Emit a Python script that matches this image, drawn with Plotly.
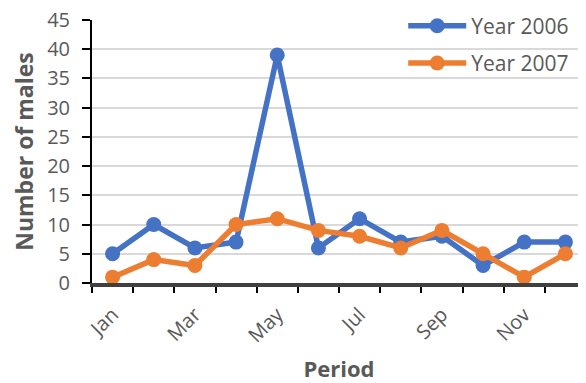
import plotly.graph_objects as go

months = ["Jan", "Feb", "Mar", "Apr", "May", "Jun", "Jul", "Aug", "Sep", "Oct", "Nov", "Dec"]
males_2006 = [5, 10, 6, 7, 39, 6, 11, 7, 8, 3, 7, 7]
males_2007 = [1, 4, 3, 10, 11, 9, 8, 6, 9, 5, 1, 5]
y_ticks = [0, 5, 10, 15, 20, 25, 30, 35, 40, 45]

xpos = list(range(len(months)))
font_family = "Open Sans, Noto Sans, DejaVu Sans, sans-serif"
gray = "#595959"

fig = go.Figure()
fig.add_trace(go.Scatter(x=xpos, y=males_2006, name="Year 2006", mode="lines+markers",
                         line=dict(color="#4472C4", width=5.5),
                         marker=dict(size=15, color="#4472C4"), legendgroup="a"))
fig.add_trace(go.Scatter(x=xpos, y=males_2007, name="Year 2007", mode="lines+markers",
                         line=dict(color="#ED7D31", width=5.5),
                         marker=dict(size=15, color="#ED7D31"), legendgroup="b"))

fig.update_layout(
    width=578, height=375,
    margin=dict(l=84, r=0, t=12, b=100, autoexpand=False),
    paper_bgcolor="white", plot_bgcolor="white",
    font=dict(family=font_family, color=gray, size=20),
    showlegend=True,
    legend=dict(x=0.63, y=1.055, xanchor="left", yanchor="top", bgcolor="rgba(0,0,0,0)",
                font=dict(size=21, color=gray), itemwidth=58,
                traceorder="grouped", tracegroupgap=7),
    xaxis=dict(range=[-0.5, len(months) - 0.5],
               tickmode="array", tickvals=xpos[::2], ticktext=months[::2],
               tickangle=-45, ticks="outside", ticklen=8, tickcolor="rgba(0,0,0,0)",
               showgrid=False, ticklabeloverflow="allow",
               showline=True, linecolor="#404040", linewidth=4,
               tickfont=dict(size=20, color=gray),
               minor=dict(tickmode="array", tickvals=[i - 0.5 for i in range(len(months) + 1)],
                          ticks="outside", ticklen=6, tickwidth=2, tickcolor="black", showgrid=False),
               title=dict(text="<b>Period</b>", font=dict(size=22, color=gray), standoff=28),
               zeroline=False, fixedrange=True),
    yaxis=dict(range=[0, 45], tickmode="array", tickvals=y_ticks,
               ticks="outside", ticklen=8, tickwidth=1.5, tickcolor="black",
               ticklabelstandoff=8, ticklabeloverflow="allow",
               showline=True, linecolor="black", linewidth=2,
               showgrid=True, gridcolor="#D9D9D9", gridwidth=1.5,
               zeroline=False, tickfont=dict(size=20, color=gray),
               title=dict(text="<b>Number of males</b>", font=dict(size=23, color=gray), standoff=10),
               fixedrange=True),
)

fig.write_html("out.html")
